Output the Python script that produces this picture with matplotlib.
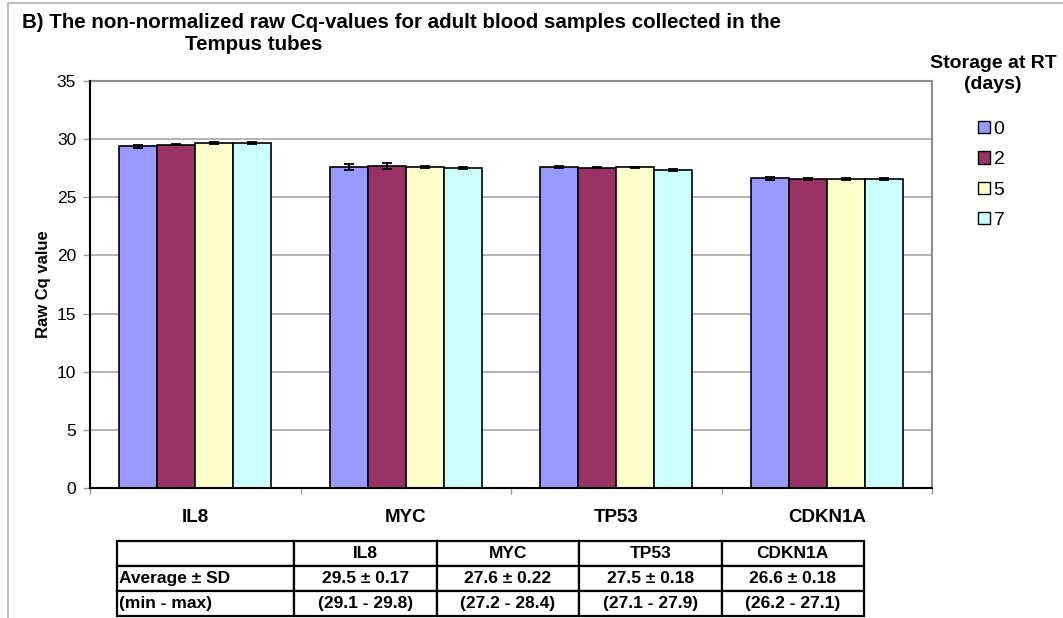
import numpy as np
import matplotlib
matplotlib.use("Agg")
import matplotlib.pyplot as plt
from matplotlib.patches import Patch
from matplotlib.lines import Line2D

plt.rcParams['font.family'] = ['Liberation Sans', 'DejaVu Sans']

genes = ["IL8", "MYC", "TP53", "CDKN1A"]
days = ["0", "2", "5", "7"]
# raw Cq per gene, one list per storage day
cq = {
    "0": [29.38, 27.63, 27.63, 26.63],
    "2": [29.52, 27.69, 27.55, 26.54],
    "5": [29.64, 27.63, 27.58, 26.57],
    "7": [29.66, 27.52, 27.34, 26.57],
}
sd = {
    "0": [0.10, 0.27, 0.10, 0.12],
    "2": [0.06, 0.30, 0.06, 0.08],
    "5": [0.09, 0.09, 0.04, 0.10],
    "7": [0.07, 0.10, 0.06, 0.07],
}
colors = ["#9999FF", "#993366", "#FFFFCC", "#CCFFFF"]

row_labels = ["Average ± SD", "(min - max)"]
avg_sd = ["29.5 ± 0.17", "27.6 ± 0.22", "27.5 ± 0.18", "26.6 ± 0.18"]
min_max = ["(29.1 - 29.8)", "(27.2 - 28.4)", "(27.1 - 27.9)", "(26.2 - 27.1)"]

W, H = 1063, 618
fig = plt.figure(figsize=(W / 100, H / 100), dpi=100)
ax = fig.add_axes([90 / W, 1 - 488 / H, (932 - 90) / W, (488 - 81) / H])

x = np.arange(len(genes))
bw = 0.18
for i, d in enumerate(days):
    pos = x - 1.5 * bw + i * bw
    ax.bar(pos, cq[d], width=bw, color=colors[i], edgecolor="black", linewidth=1.2,
           yerr=sd[d], capsize=3.5, error_kw=dict(elinewidth=1.3, capthick=1.3, ecolor="black"),
           zorder=3, label=d)

ax.set_xlim(-0.5, 3.5)
ax.set_ylim(0, 35)
ax.set_yticks(range(0, 36, 5))
ax.set_xticks(x)
ax.set_xticklabels(genes, fontsize=13.5, fontweight="bold")
ax.set_xticks(np.arange(-0.5, 4, 1), minor=True)
ax.tick_params(axis="x", which="major", length=0, pad=15)
ax.tick_params(axis="x", which="minor", length=4, color="#999999", width=1)
ax.tick_params(axis="y", labelsize=12.5, length=5, color="#999999", width=1, pad=5)
ax.yaxis.grid(True, color="#a6a6a6", linewidth=1.2, zorder=0)
ax.set_axisbelow(True)
for s in ["left", "bottom"]:
    ax.spines[s].set_color("black")
    ax.spines[s].set_linewidth(1.5)
for s in ["top", "right"]:
    ax.spines[s].set_color("#8c8c8c")
    ax.spines[s].set_linewidth(1.5)
ax.spines["left"].set_zorder(4)
ax.spines["bottom"].set_zorder(4)
ax.set_ylabel("Raw Cq value", fontsize=12, fontweight="bold", labelpad=4)

fig.text(22 / W, 1 - 23 / H, "B) The non-normalized raw Cq-values for adult blood samples collected in the",
         fontsize=14.8, fontweight="bold", ha="left", va="center")
fig.text(254 / W, 1 - 44 / H, "Tempus tubes", fontsize=14.8, fontweight="bold", ha="center", va="center")

# legend title drawn separately, entries below it
fig.text(993 / W, 1 - 74 / H, "Storage at RT\n(days)", fontsize=14, fontweight="bold",
         ha="center", va="center", multialignment="center", linespacing=1.25)
handles = [Patch(facecolor=c, edgecolor="black", linewidth=1) for c in colors]
leg = fig.legend(handles, days, loc="upper left", bbox_to_anchor=(978 / W, 1 - 121 / H),
                 frameon=False, fontsize=14,
                 handlelength=0.6, handleheight=0.6, handletextpad=0.2, labelspacing=0.68,
                 borderaxespad=0, borderpad=0)

# figure frame (left and top edges are visible)
fig.add_artist(Line2D([8 / W, 8 / W], [0, 1 - 3 / H], color="#b0b0b0", linewidth=1.2))
fig.add_artist(Line2D([8 / W, 1], [1 - 3 / H, 1 - 3 / H], color="#b0b0b0", linewidth=1.2))

# summary table
tax = fig.add_axes([117 / W, 1 - 616 / H, (864 - 117) / W, 75 / H])
tax.axis("off")
cells = [[""] + genes, [row_labels[0]] + avg_sd, [row_labels[1]] + min_max]
widths = [177] + [142.5] * 4
tot = sum(widths)
tbl = tax.table(cellText=cells, colWidths=[w / tot for w in widths], bbox=[0, 0, 1, 1],
                cellLoc="center")
tbl.auto_set_font_size(False)
for (r, c), cell in tbl.get_celld().items():
    cell.set_edgecolor("black")
    cell.set_linewidth(1.6)
    t = cell.get_text()
    t.set_fontsize(12.5)
    t.set_fontweight("bold")
    if c == 0:
        t.set_ha("left")
        cell.PAD = 0.01

fig.savefig("out.png", dpi=100)
